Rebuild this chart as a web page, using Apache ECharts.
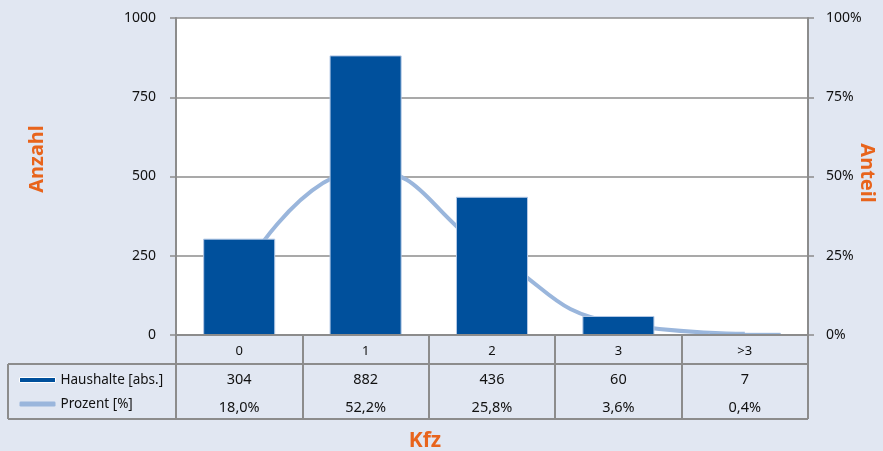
<!DOCTYPE html>
<html><head><meta charset="utf-8">
<script src="https://cdn.jsdelivr.net/npm/echarts@6/dist/echarts.min.js"></script>
<style>html,body{margin:0;padding:0;background:#e1e7f2}#c{width:883px;height:451px}</style>
</head><body><div id="c"></div>
<script>
const categories = ['0', '1', '2', '3', '>3'];
const haushalte = [304, 882, 436, 60, 7];
const prozent = [18.0, 52.2, 25.8, 3.6, 0.4];
const prozentLabels = ['18,0%', '52,2%', '25,8%', '3,6%', '0,4%'];
const leftTicks = [0, 250, 500, 750, 1000];

const FONT = '"Noto Sans", sans-serif';
const GRAY = '#8c8c8c';
const ORANGE = '#e8641c';
const chart = echarts.init(document.getElementById('c'));
chart.setOption({
  backgroundColor: '#e1e7f2',
  animation: false,
  textStyle: { fontFamily: FONT },
  grid: { left: 176, right: 75, top: 18, bottom: 116, show: true, backgroundColor: '#ffffff', borderWidth: 0 },
  legend: {
    orient: 'vertical', left: 14, top: 368, itemGap: 10, itemWidth: 36, itemHeight: 5,
    textStyle: { fontFamily: FONT, fontSize: 13.5, color: '#111' },
    data: [
      { name: 'Haushalte [abs.]', icon: 'rect', itemStyle: { color: '#00509c', borderColor: '#ffffff', borderWidth: 1 } },
      { name: 'Prozent [%]', icon: 'roundRect', itemStyle: { color: '#9ab6dc' } }
    ]
  },
  xAxis: {
    type: 'category', data: categories, boundaryGap: true, z: 5,
    axisLine: { lineStyle: { color: GRAY, width: 2 } },
    axisTick: { show: true, length: 84, lineStyle: { color: GRAY, width: 2 } },
    axisLabel: {
      margin: 2, interval: 0,
      formatter: function (v, i) {
        return '{c|' + v + '}\n{v|' + haushalte[i] + '}\n{p|' + prozentLabels[i] + '}';
      },
      rich: {
        c: { fontFamily: FONT, fontSize: 13, color: '#111', lineHeight: 28 },
        v: { fontFamily: FONT, fontSize: 14.5, color: '#111', lineHeight: 30 },
        p: { fontFamily: FONT, fontSize: 14.5, color: '#111', lineHeight: 26 }
      }
    }
  },
  yAxis: [
    {
      type: 'value', min: leftTicks[0], max: leftTicks[leftTicks.length - 1], interval: 250,
      axisLine: { show: true, lineStyle: { color: GRAY, width: 2 } },
      axisTick: { show: true, length: 6, lineStyle: { color: GRAY, width: 1.5 } },
      axisLabel: { margin: 20, fontFamily: FONT, fontSize: 14, color: '#111', formatter: function (v) { return String(v); } },
      splitLine: { show: true, lineStyle: { color: GRAY, width: 1.5 } }
    },
    {
      type: 'value', min: 0, max: 100, interval: 25, position: 'right',
      axisLine: { show: true, lineStyle: { color: GRAY, width: 2 } },
      axisTick: { show: true, length: 6, lineStyle: { color: GRAY, width: 1.5 } },
      axisLabel: { margin: 18, fontFamily: FONT, fontSize: 14, color: '#111', formatter: '{value}%' },
      splitLine: { show: false }
    }
  ],
  series: [
    {
      name: 'Prozent [%]', type: 'line', yAxisIndex: 1, data: prozent, smooth: 0.5,
      symbol: 'none', z: 1,
      lineStyle: { color: '#9ab6dc', width: 4 }, itemStyle: { color: '#9ab6dc' }
    },
    {
      name: 'Haushalte [abs.]', type: 'bar', yAxisIndex: 0, data: haushalte, barWidth: '57%', z: 3,
      itemStyle: { color: '#00509c', borderColor: '#b3c8e6', borderWidth: 1 }
    }
  ],
  graphic: [
    { type: 'line', shape: { x1: 8, y1: 364, x2: 808, y2: 364 }, style: { stroke: GRAY, lineWidth: 2 } },
    { type: 'line', shape: { x1: 8, y1: 419, x2: 808, y2: 419 }, style: { stroke: GRAY, lineWidth: 2 } },
    { type: 'line', shape: { x1: 8, y1: 364, x2: 8, y2: 419 }, style: { stroke: GRAY, lineWidth: 2 } },
    { type: 'text', x: 37, y: 159, rotation: Math.PI / 2, style: { text: 'Anzahl', fill: ORANGE, font: 'bold 20px ' + FONT, textAlign: 'center', textVerticalAlign: 'middle' } },
    { type: 'text', x: 867, y: 173, rotation: -Math.PI / 2, style: { text: 'Anteil', fill: ORANGE, font: 'bold 20px ' + FONT, textAlign: 'center', textVerticalAlign: 'middle' } },
    { type: 'text', x: 425, y: 441, style: { text: 'Kfz', fill: ORANGE, font: 'bold 21px ' + FONT, textAlign: 'center', textVerticalAlign: 'middle' } }
  ]
});
</script></body></html>
